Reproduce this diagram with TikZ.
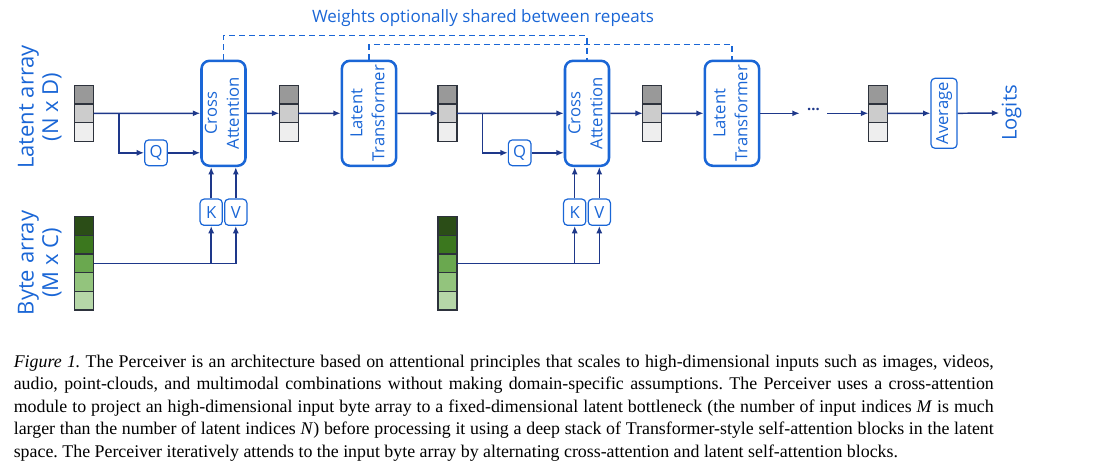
\documentclass[tikz,border=0pt]{standalone}
\usepackage{fontspec}
\setmainfont{Liberation Serif}
\newfontfamily\gsans{Open Sans}
\usetikzlibrary{arrows.meta,positioning}

\definecolor{gblue}{RGB}{26,102,214}
\definecolor{navy}{RGB}{30,56,138}
\definecolor{edge}{RGB}{45,50,60}
\definecolor{grayA}{RGB}{153,153,153}
\definecolor{grayB}{RGB}{204,204,204}
\definecolor{grayC}{RGB}{238,238,238}
\definecolor{greenA}{RGB}{43,77,23}
\definecolor{greenB}{RGB}{59,119,30}
\definecolor{greenC}{RGB}{106,168,79}
\definecolor{greenD}{RGB}{147,196,125}
\definecolor{greenE}{RGB}{182,215,168}

\tikzset{every picture/.style={line width=0.75pt}}
\tikzset{
  flow/.style={draw=navy, line width=1.1pt, -{Latex[length=5.5pt,width=4.5pt]}},
  shared/.style={draw=gblue, line width=0.9pt, dash pattern=on 4.5pt off 3pt},
  cellbox/.style={draw=edge, line width=1pt, minimum width=14.25pt, minimum height=14pt, inner sep=0pt, outer sep=0pt},
  bigbox/.style={draw=gblue, line width=1.9pt, rounded corners=6pt, inner sep=0pt, text=gblue, minimum height=78.75pt, font=\gsans\fontsize{12.5}{16.5}\selectfont},
  smallbox/.style={draw=gblue, line width=0.9pt, rounded corners=3pt, inner sep=0pt, text=gblue, font=\gsans\fontsize{12.5}{15}\selectfont},
  bluetext/.style={text=gblue, inner sep=0pt, font=\gsans\fontsize{16.5}{18.3}\selectfont},
}
\newcommand{\vtext}[1]{\rotatebox{90}{\begin{tabular}{@{}c@{}}#1\end{tabular}}}
\newcommand{\latentcol}[2]{%
  \node (#1a) [cellbox, fill=grayA] at (#2,94.6) {};
  \node (#1b) [cellbox, fill=grayB, below=0pt of #1a] {};
  \node (#1c) [cellbox, fill=grayC, below=0pt of #1b] {};}
\newcommand{\bytecol}[2]{%
  \node (#1a) [cellbox, fill=greenA] at (#2,226) {};
  \node (#1b) [cellbox, fill=greenB, below=0pt of #1a] {};
  \node (#1c) [cellbox, fill=greenC, below=0pt of #1b] {};
  \node (#1d) [cellbox, fill=greenD, below=0pt of #1c] {};
  \node (#1e) [cellbox, fill=greenE, below=0pt of #1d] {};}

\begin{document}
\begin{tikzpicture}[x=0.75pt,y=0.75pt,yscale=-1,xscale=1]
\useasboundingbox (0,0) rectangle (1102,465);

% Side labels
\node (latlab) [bluetext] at (41,107) {\vtext{Latent array\\(N x D)}};
\node (bytelab) [bluetext] at (41,263) {\vtext{Byte array\\(M x C)}};

% Latent arrays
\latentcol{la1}{84.2}
\latentcol{la2}{288.8}
\latentcol{la3}{447.5}
\latentcol{la4}{652.2}
\latentcol{la5}{877.8}
% Byte arrays
\bytecol{ba1}{84.2}
\bytecol{ba2}{447.5}

% Blocks
\node (ca1) [bigbox, minimum width=32.25pt] at (223.5,113.3) {\vtext{Cross\\Attention}};
\node (lt1) [bigbox, minimum width=40.7pt] at (369,113.3) {\vtext{Latent\\Transformer}};
\node (ca2) [bigbox, minimum width=32.25pt] at (587,113.3) {\vtext{Cross\\Attention}};
\node (lt2) [bigbox, minimum width=40.7pt] at (732,113.3) {\vtext{Latent\\Transformer}};

% Q, K, V
\node (q1) [smallbox, minimum width=17pt, minimum height=19.3pt] at (156,152.8) {Q};
\node (q2) [smallbox, minimum width=17pt, minimum height=19.3pt] at (519.7,152.8) {Q};
\node (k1) [smallbox, minimum width=16.7pt, minimum height=19.7pt] at (211.2,212.2) {K};
\node (v1) [smallbox, minimum width=16.7pt, minimum height=19.7pt] at (235.8,212.2) {V};
\node (k2) [smallbox, minimum width=16.7pt, minimum height=19.7pt] at (574.7,212.2) {K};
\node (v2) [smallbox, minimum width=16.7pt, minimum height=19.7pt] at (599.3,212.2) {V};

% Output
\node (dots) [text=navy, inner sep=0pt, minimum width=20pt, font=\gsans\bfseries\fontsize{11}{13}\selectfont] at (813.5,109.5) {...};
\node (avg) [smallbox, minimum width=19.5pt, minimum height=52.5pt] at (944,113.3) {\vtext{Average}};
\node (logits) [bluetext, font=\gsans\fontsize{15.2}{18}\selectfont] at (1011.7,113) {\vtext{Logits}};

% Shared weights
\node (sharedlab) [bluetext, font=\gsans\fontsize{12.75}{15}\selectfont] at (483,18) {Weights optionally shared between repeats};
\draw [shared] (ca1.north) -- ++(0,-24.1) -| (ca2.north);
\draw [shared] (lt1.north) -- ++(0,-15.1) -| (lt2.north);

% Latent path
\coordinate (br1) at (119,113.3);
\coordinate (br2) at (482.3,113.3);
\draw [flow] (la1b.east) -- (ca1.west);
\draw [flow] (br1) |- (q1.west);
\draw [flow] (q1.east) -- (q1.east -| ca1.west);
\draw [flow] (ca1.east) -- (la2b.west);
\draw [flow] (la2b.east) -- (lt1.west);
\draw [flow] (lt1.east) -- (la3b.west);
\draw [flow] (la3b.east) -- (ca2.west);
\draw [flow] (br2) |- (q2.west);
\draw [flow] (q2.east) -- (q2.east -| ca2.west);
\draw [flow] (ca2.east) -- (la4b.west);
\draw [flow] (la4b.east) -- (lt2.west);
\draw [flow] (lt2.east) -- (lt2.east -| dots.west);
\draw [flow] (dots.east |- la5b.west) -- (la5b.west);
\draw [flow] (la5b.east) -- (avg.west);
\draw [flow] (avg.east) -- (logits.west);

% Byte path
\draw [flow] (ba1c.east) -| (v1.south);
\draw [flow] (ba1c.east -| k1.south) -- (k1.south);
\draw [flow] (k1.north) -- (k1.north |- ca1.south);
\draw [flow] (v1.north) -- (v1.north |- ca1.south);
\draw [flow] (ba2c.east) -| (v2.south);
\draw [flow] (ba2c.east -| k2.south) -- (k2.south);
\draw [flow] (k2.north) -- (k2.north |- ca2.south);
\draw [flow] (v2.north) -- (v2.north |- ca2.south);

% Caption
\node (caption) [anchor=base west, text width=735pt, inner sep=0pt, align=justify, font=\fontsize{13.4}{16.9}\selectfont] at (13.3,367.3) {%
\frenchspacing\hyphenpenalty=10000\relax\tolerance=10000\relax\spaceskip=0.25em plus 0.15em minus 0.11em\relax
\textit{Figure 1.} The Perceiver is an architecture based on attentional principles that scales to high-dimensional inputs such as images, videos,\linebreak
audio, point-clouds, and multimodal combinations without making domain-specific assumptions. The Perceiver uses a cross-attention\linebreak
module to project an high-dimensional input byte array to a fixed-dimensional latent bottleneck (the number of input indices \textit{M} is much\linebreak
larger than the number of latent indices \textit{N}) before processing it using a deep stack of Transformer-style self-attention blocks in the latent\linebreak
space. The Perceiver iteratively attends to the input byte array by alternating cross-attention and latent self-attention blocks.};
\end{tikzpicture}
\end{document}
